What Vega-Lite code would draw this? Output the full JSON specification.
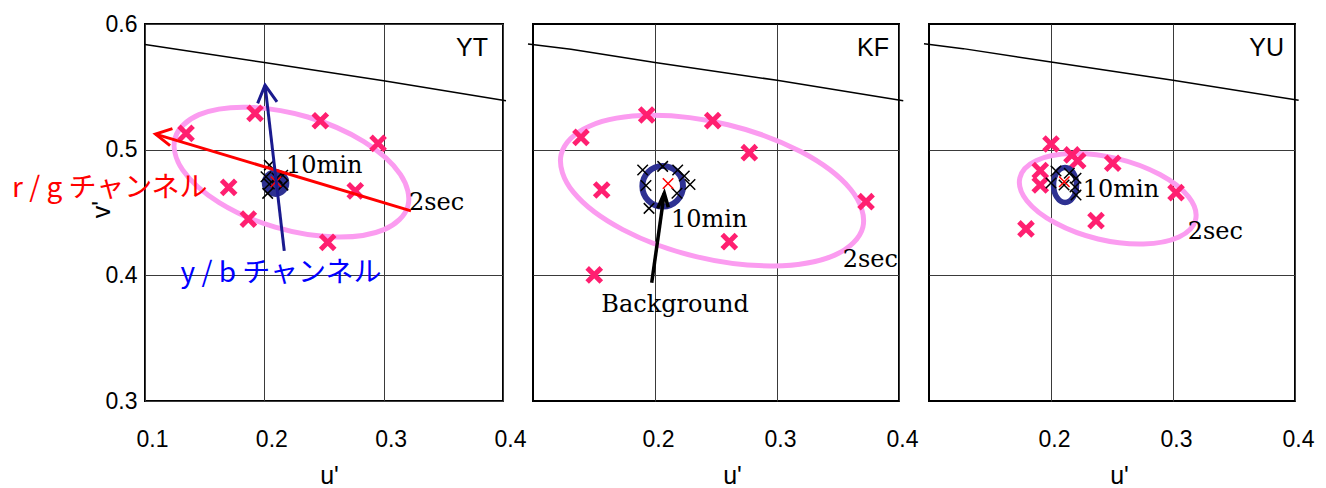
{
  "$schema": "https://vega.github.io/schema/vega-lite/v6.json",
  "padding": {"left": 10, "top": 12, "right": 0, "bottom": 0},
  "background": "white",
  "config": {
    "view": {"stroke": "black", "strokeWidth": 2},
    "axis": {"ticks": false, "tickSize": 0, "domain": false, "grid": true, "gridColor": "#3a3a3a", "gridWidth": 1,
      "labelFont": "Liberation Sans", "labelFontSize": 23, "labelColor": "black",
      "titleFont": "Liberation Sans", "titleFontSize": 25, "titleFontWeight": "normal", "titleColor": "black"}
  },
  "datasets": {
    "ell": [
      {"p":1,"o":0,"u":0.3202,"v":0.4547},{"p":1,"o":1,"u":0.3003,"v":0.4364},{"p":1,"o":2,"u":0.2597,"v":0.4305},{"p":1,"o":3,"u":0.2091,"v":0.4383},
      {"p":1,"o":4,"u":0.1622,"v":0.4579},{"p":1,"o":5,"u":0.1315,"v":0.4839},{"p":1,"o":6,"u":0.1253,"v":0.5095},{"p":1,"o":7,"u":0.1453,"v":0.5279},
      {"p":1,"o":8,"u":0.1858,"v":0.5338},{"p":1,"o":9,"u":0.2364,"v":0.5260},{"p":1,"o":10,"u":0.2834,"v":0.5064},{"p":1,"o":11,"u":0.3140,"v":0.4804},
      {"p":2,"o":0,"u":0.3704,"v":0.4384},{"p":2,"o":1,"u":0.3473,"v":0.4161},{"p":2,"o":2,"u":0.2973,"v":0.4075},{"p":2,"o":3,"u":0.2337,"v":0.4149},
      {"p":2,"o":4,"u":0.1736,"v":0.4364},{"p":2,"o":5,"u":0.1331,"v":0.4662},{"p":2,"o":6,"u":0.1231,"v":0.4963},{"p":2,"o":7,"u":0.1462,"v":0.5187},
      {"p":2,"o":8,"u":0.1962,"v":0.5273},{"p":2,"o":9,"u":0.2598,"v":0.5198},{"p":2,"o":10,"u":0.3198,"v":0.4983},{"p":2,"o":11,"u":0.3603,"v":0.4685},
      {"p":3,"o":0,"u":0.3185,"v":0.4442},{"p":3,"o":1,"u":0.3049,"v":0.4305},{"p":3,"o":2,"u":0.2757,"v":0.4249},{"p":3,"o":3,"u":0.2386,"v":0.4289},
      {"p":3,"o":4,"u":0.2037,"v":0.4416},{"p":3,"o":5,"u":0.1802,"v":0.4594},{"p":3,"o":6,"u":0.1745,"v":0.4776},{"p":3,"o":7,"u":0.1881,"v":0.4914},
      {"p":3,"o":8,"u":0.2173,"v":0.4969},{"p":3,"o":9,"u":0.2544,"v":0.4929},{"p":3,"o":10,"u":0.2893,"v":0.4802},{"p":3,"o":11,"u":0.3128,"v":0.4624}
    ],
    "locus": [
      {"p":1,"o":0,"u":0.1,"v":0.5836},{"p":1,"o":1,"u":0.2,"v":0.5693},{"p":1,"o":2,"u":0.3,"v":0.5549},{"p":1,"o":3,"u":0.4025,"v":0.5389},
      {"p":2,"o":0,"u":0.0959,"v":0.5841},{"p":2,"o":1,"u":0.1311,"v":0.5799},{"p":2,"o":2,"u":0.2,"v":0.5693},{"p":2,"o":3,"u":0.3,"v":0.5552},{"p":2,"o":4,"u":0.4035,"v":0.5390},
      {"p":3,"o":0,"u":0.0959,"v":0.5843},{"p":3,"o":1,"u":0.1280,"v":0.5804},{"p":3,"o":2,"u":0.2,"v":0.5698},{"p":3,"o":3,"u":0.3,"v":0.5553},{"p":3,"o":4,"u":0.4030,"v":0.5393}
    ],
    "pts2s": [
      {"p":1,"u":0.1344,"v":0.5130},{"p":1,"u":0.1922,"v":0.5289},{"p":1,"u":0.2469,"v":0.5230},{"p":1,"u":0.2953,"v":0.5050},
      {"p":1,"u":0.1701,"v":0.4700},{"p":1,"u":0.2762,"v":0.4672},{"p":1,"u":0.1866,"v":0.4447},{"p":1,"u":0.2531,"v":0.4262},
      {"p":2,"u":0.1393,"v":0.5098},{"p":2,"u":0.1932,"v":0.5276},{"p":2,"u":0.2473,"v":0.5231},{"p":2,"u":0.2773,"v":0.4976},
      {"p":2,"u":0.1563,"v":0.4679},{"p":2,"u":0.3730,"v":0.4586},{"p":2,"u":0.2609,"v":0.4268},{"p":2,"u":0.1502,"v":0.4003},
      {"p":3,"u":0.2000,"v":0.5045},{"p":3,"u":0.2172,"v":0.4958},{"p":3,"u":0.2219,"v":0.4912},{"p":3,"u":0.1912,"v":0.4833},
      {"p":3,"u":0.1912,"v":0.4719},{"p":3,"u":0.2506,"v":0.4892},{"p":3,"u":0.3025,"v":0.4658},{"p":3,"u":0.2369,"v":0.4435},{"p":3,"u":0.1795,"v":0.4369}
    ],
    "pts10": [
      {"p":1,"u":0.2042,"v":0.4877},{"p":1,"u":0.2014,"v":0.4784},{"p":1,"u":0.2154,"v":0.4797},{"p":1,"u":0.2042,"v":0.4726},
      {"p":1,"u":0.2156,"v":0.4718},{"p":1,"u":0.2028,"v":0.4652},{"p":1,"u":0.2106,"v":0.4774},
      {"p":2,"u":0.1899,"v":0.4838},{"p":2,"u":0.2063,"v":0.4867},{"p":2,"u":0.2186,"v":0.4838},{"p":2,"u":0.2240,"v":0.4790},
      {"p":2,"u":0.2287,"v":0.4723},{"p":2,"u":0.1926,"v":0.4715},{"p":2,"u":0.2180,"v":0.4653},{"p":2,"u":0.1951,"v":0.4533},
      {"p":3,"u":0.2041,"v":0.4830},{"p":3,"u":0.2150,"v":0.4812},{"p":3,"u":0.2205,"v":0.4772},{"p":3,"u":0.2000,"v":0.4735},
      {"p":3,"u":0.2107,"v":0.4719},{"p":3,"u":0.2197,"v":0.4703},{"p":3,"u":0.2205,"v":0.4639}
    ],
    "ctr": [
      {"p":1,"u":0.2098,"v":0.4744},{"p":2,"u":0.2107,"v":0.4731},{"p":3,"u":0.2109,"v":0.4745}
    ],
    "ring": [
      {"p":1,"u":0.2094,"v":0.4734},{"p":2,"u":0.2063,"v":0.4709},{"p":3,"u":0.2115,"v":0.4719}
    ],
    "arrows": [
      {"p":1,"c":"rg","a":"rg1","o":0,"u":0.3229,"v":0.4513},{"p":1,"c":"rg","a":"rg1","o":1,"u":0.1088,"v":0.5124},
      {"p":1,"c":"rg","a":"rg2","o":0,"u":0.1230,"v":0.5168},{"p":1,"c":"rg","a":"rg2","o":1,"u":0.1088,"v":0.5124},{"p":1,"c":"rg","a":"rg2","o":2,"u":0.1210,"v":0.5032},
      {"p":1,"c":"yb","a":"yb1","o":0,"u":0.2167,"v":0.4195},{"p":1,"c":"yb","a":"yb1","o":1,"u":0.2006,"v":0.5514},
      {"p":1,"c":"yb","a":"yb2","o":0,"u":0.1944,"v":0.5368},{"p":1,"c":"yb","a":"yb2","o":1,"u":0.2006,"v":0.5514},{"p":1,"c":"yb","a":"yb2","o":2,"u":0.2106,"v":0.5381},
      {"p":2,"c":"bg","a":"bg1","o":0,"u":0.1973,"v":0.3941},{"p":2,"c":"bg","a":"bg1","o":1,"u":0.2076,"v":0.4653},
      {"p":2,"c":"bg","a":"bg2","o":0,"u":0.2022,"v":0.4533},{"p":2,"c":"bg","a":"bg2","o":1,"u":0.2076,"v":0.4653},{"p":2,"c":"bg","a":"bg2","o":2,"u":0.2109,"v":0.4541}
    ],
    "labels": [
      {"p":1,"k":"corner","t":"YT","u":0.3874,"v":0.5809},
      {"p":1,"k":"serif","t":"10min","u":0.2182,"v":0.4811},
      {"p":1,"k":"serif","t":"2sec","u":0.3212,"v":0.4519},
      {"p":1,"k":"red","t":"r / g チャンネル","u":0.0705,"v":0.4622},
      {"p":1,"k":"blue","t":"y / b チャンネル","u":0.2140,"v":0.3945},
      {"p":2,"k":"corner","t":"KF","u":0.3918,"v":0.5809},
      {"p":2,"k":"serif","t":"10min","u":0.2131,"v":0.4387},
      {"p":2,"k":"serif","t":"2sec","u":0.3538,"v":0.4069},
      {"p":2,"k":"serifc","t":"Background","u":0.2164,"v":0.3711},
      {"p":3,"k":"corner","t":"YU","u":0.3910,"v":0.5809},
      {"p":3,"k":"serif","t":"10min","u":0.2260,"v":0.4626},
      {"p":3,"k":"serif","t":"2sec","u":0.3120,"v":0.4287}
    ]
  },
  "hconcat": [
    {
      "width": 358, "height": 377,
      "encoding": {
        "x": {"field": "u", "type": "quantitative", "scale": {"domain": [0.1, 0.4], "nice": false, "zero": false},
          "axis": {"values": [0.1, 0.2, 0.3, 0.4], "format": ".1f", "labelPadding": 27, "labelOffset": 7, "labelFlush": false, "labelOverlap": false,
            "title": "u'", "titleX": 184, "titleY": 82, "titleBaseline": "alphabetic", "titleAlign": "center"}},
        "y": {"field": "v", "type": "quantitative", "scale": {"domain": [0.3, 0.6], "nice": false, "zero": false},
          "axis": {"values": [0.3, 0.4, 0.5, 0.6], "format": ".1f", "labelPadding": 8, "labelFlush": false, "labelOverlap": false,
            "title": "v'", "titleX": -36, "titleY": 185, "titleAngle": 270, "titleBaseline": "alphabetic", "titleAlign": "center"}}
      },
      "layer": [
        {"data": {"name": "locus"}, "transform": [{"filter": "datum.p == 1"}], "mark": {"type": "line", "color": "black", "strokeWidth": 1.5}, "encoding": {"order": {"field": "o"}}},
        {"data": {"name": "ell"}, "transform": [{"filter": "datum.p == 1"}], "mark": {"type": "line", "color": "#fb9cf0", "strokeWidth": 5, "interpolate": "cardinal-closed"}, "encoding": {"order": {"field": "o"}}},
        {"data": {"name": "pts2s"}, "transform": [{"filter": "datum.p == 1"}], "mark": {"type": "point", "shape": "M-1,-1L1,1M1,-1L-1,1", "filled": false, "color": "#ff1f70", "strokeWidth": 5, "size": 200, "opacity": 1}},
        {"data": {"name": "ring"}, "transform": [{"filter": "datum.p == 1"}], "mark": {"type": "point", "shape": "circle", "filled": true, "color": "#2e3192", "size": 760, "opacity": 1}},
        {"data": {"name": "pts10"}, "transform": [{"filter": "datum.p == 1"}], "mark": {"type": "point", "shape": "M-1,-1L1,1M1,-1L-1,1", "filled": false, "color": "black", "strokeWidth": 1.5, "size": 110, "opacity": 1}},
        {"data": {"name": "ctr"}, "transform": [{"filter": "datum.p == 1"}], "mark": {"type": "point", "shape": "M-1,-1L1,1M1,-1L-1,1", "filled": false, "color": "#ff0000", "strokeWidth": 1.5, "size": 110, "opacity": 1}},
        {"data": {"name": "arrows"}, "transform": [{"filter": "datum.p == 1"}], "mark": {"type": "line", "strokeWidth": 3},
          "encoding": {"order": {"field": "o"}, "detail": {"field": "a"}, "color": {"field": "c", "type": "nominal", "scale": {"domain": ["rg", "yb", "bg"], "range": ["#ff0000", "#1a1a8e", "#000000"]}, "legend": null}}},
        {"data": {"name": "labels"}, "transform": [{"filter": "datum.p == 1 && datum.k == 'corner'"}], "mark": {"type": "text", "font": "Liberation Sans", "fontSize": 25, "align": "right", "baseline": "middle", "color": "black"}, "encoding": {"text": {"field": "t"}}},
        {"data": {"name": "labels"}, "transform": [{"filter": "datum.p == 1 && datum.k == 'serif'"}], "mark": {"type": "text", "font": "DejaVu Serif", "fontSize": 24, "align": "left", "baseline": "alphabetic", "color": "black"}, "encoding": {"text": {"field": "t"}}},
        {"data": {"name": "labels"}, "transform": [{"filter": "datum.p == 1 && datum.k == 'red'"}], "mark": {"type": "text", "font": "Noto Sans CJK JP", "fontSize": 28, "align": "center", "baseline": "alphabetic", "color": "#ff0000"}, "encoding": {"text": {"field": "t"}}},
        {"data": {"name": "labels"}, "transform": [{"filter": "datum.p == 1 && datum.k == 'blue'"}], "mark": {"type": "text", "font": "Noto Sans CJK JP", "fontSize": 28, "align": "center", "baseline": "alphabetic", "color": "#0000ff"}, "encoding": {"text": {"field": "t"}}}
      ]
    },
    {
      "width": 366, "height": 377,
      "encoding": {
        "x": {"field": "u", "type": "quantitative", "scale": {"domain": [0.1, 0.4], "nice": false, "zero": false},
          "axis": {"values": [0.2, 0.3, 0.4], "format": ".1f", "labelPadding": 27, "labelOffset": 3, "labelFlush": false, "labelOverlap": false,
            "title": "u'", "titleX": 199, "titleY": 82, "titleBaseline": "alphabetic", "titleAlign": "center"}},
        "y": {"field": "v", "type": "quantitative", "scale": {"domain": [0.3, 0.6], "nice": false, "zero": false},
          "axis": {"values": [0.4, 0.5], "labels": false, "title": null}}
      },
      "layer": [
        {"data": {"name": "locus"}, "transform": [{"filter": "datum.p == 2"}], "mark": {"type": "line", "color": "black", "strokeWidth": 1.5}, "encoding": {"order": {"field": "o"}}},
        {"data": {"name": "ell"}, "transform": [{"filter": "datum.p == 2"}], "mark": {"type": "line", "color": "#fb9cf0", "strokeWidth": 5, "interpolate": "cardinal-closed"}, "encoding": {"order": {"field": "o"}}},
        {"data": {"name": "pts2s"}, "transform": [{"filter": "datum.p == 2"}], "mark": {"type": "point", "shape": "M-1,-1L1,1M1,-1L-1,1", "filled": false, "color": "#ff1f70", "strokeWidth": 5, "size": 200, "opacity": 1}},
        {"data": {"name": "ring"}, "transform": [{"filter": "datum.p == 2"}], "mark": {"type": "point", "shape": "circle", "filled": false, "color": "#2e3192", "strokeWidth": 6, "size": 1650, "opacity": 1}},
        {"data": {"name": "pts10"}, "transform": [{"filter": "datum.p == 2"}], "mark": {"type": "point", "shape": "M-1,-1L1,1M1,-1L-1,1", "filled": false, "color": "black", "strokeWidth": 1.5, "size": 110, "opacity": 1}},
        {"data": {"name": "ctr"}, "transform": [{"filter": "datum.p == 2"}], "mark": {"type": "point", "shape": "M-1,-1L1,1M1,-1L-1,1", "filled": false, "color": "#ff0000", "strokeWidth": 1.5, "size": 110, "opacity": 1}},
        {"data": {"name": "arrows"}, "transform": [{"filter": "datum.p == 2"}], "mark": {"type": "line", "strokeWidth": 3.5},
          "encoding": {"order": {"field": "o"}, "detail": {"field": "a"}, "color": {"field": "c", "type": "nominal", "scale": {"domain": ["rg", "yb", "bg"], "range": ["#ff0000", "#1a1a8e", "#000000"]}, "legend": null}}},
        {"data": {"name": "labels"}, "transform": [{"filter": "datum.p == 2 && datum.k == 'corner'"}], "mark": {"type": "text", "font": "Liberation Sans", "fontSize": 25, "align": "right", "baseline": "middle", "color": "black"}, "encoding": {"text": {"field": "t"}}},
        {"data": {"name": "labels"}, "transform": [{"filter": "datum.p == 2 && datum.k == 'serif'"}], "mark": {"type": "text", "font": "DejaVu Serif", "fontSize": 24, "align": "left", "baseline": "alphabetic", "color": "black"}, "encoding": {"text": {"field": "t"}}},
        {"data": {"name": "labels"}, "transform": [{"filter": "datum.p == 2 && datum.k == 'serifc'"}], "mark": {"type": "text", "font": "DejaVu Serif", "fontSize": 24, "align": "center", "baseline": "alphabetic", "color": "black"}, "encoding": {"text": {"field": "t"}}}
      ]
    },
    {
      "width": 366, "height": 377,
      "encoding": {
        "x": {"field": "u", "type": "quantitative", "scale": {"domain": [0.1, 0.4], "nice": false, "zero": false},
          "axis": {"values": [0.2, 0.3, 0.4], "format": ".1f", "labelPadding": 27, "labelOffset": 3, "labelFlush": false, "labelOverlap": false,
            "title": "u'", "titleX": 190, "titleY": 82, "titleBaseline": "alphabetic", "titleAlign": "center"}},
        "y": {"field": "v", "type": "quantitative", "scale": {"domain": [0.3, 0.6], "nice": false, "zero": false},
          "axis": {"values": [0.4, 0.5], "labels": false, "title": null}}
      },
      "layer": [
        {"data": {"name": "locus"}, "transform": [{"filter": "datum.p == 3"}], "mark": {"type": "line", "color": "black", "strokeWidth": 1.5}, "encoding": {"order": {"field": "o"}}},
        {"data": {"name": "ell"}, "transform": [{"filter": "datum.p == 3"}], "mark": {"type": "line", "color": "#fb9cf0", "strokeWidth": 5, "interpolate": "cardinal-closed"}, "encoding": {"order": {"field": "o"}}},
        {"data": {"name": "pts2s"}, "transform": [{"filter": "datum.p == 3"}], "mark": {"type": "point", "shape": "M-1,-1L1,1M1,-1L-1,1", "filled": false, "color": "#ff1f70", "strokeWidth": 5, "size": 200, "opacity": 1}},
        {"data": {"name": "ring"}, "transform": [{"filter": "datum.p == 3"}], "mark": {"type": "point", "shape": "M0,-1 A0.657,1,0,1,1,0,1 A0.657,1,0,1,1,0,-1 Z", "filled": false, "color": "#2e3192", "strokeWidth": 5.5, "size": 1225, "opacity": 1}},
        {"data": {"name": "pts10"}, "transform": [{"filter": "datum.p == 3"}], "mark": {"type": "point", "shape": "M-1,-1L1,1M1,-1L-1,1", "filled": false, "color": "black", "strokeWidth": 1.5, "size": 110, "opacity": 1}},
        {"data": {"name": "ctr"}, "transform": [{"filter": "datum.p == 3"}], "mark": {"type": "point", "shape": "M-1,-1L1,1M1,-1L-1,1", "filled": false, "color": "#ff0000", "strokeWidth": 1.5, "size": 110, "opacity": 1}},
        {"data": {"name": "labels"}, "transform": [{"filter": "datum.p == 3 && datum.k == 'corner'"}], "mark": {"type": "text", "font": "Liberation Sans", "fontSize": 25, "align": "right", "baseline": "middle", "color": "black"}, "encoding": {"text": {"field": "t"}}},
        {"data": {"name": "labels"}, "transform": [{"filter": "datum.p == 3 && datum.k == 'serif'"}], "mark": {"type": "text", "font": "DejaVu Serif", "fontSize": 24, "align": "left", "baseline": "alphabetic", "color": "black"}, "encoding": {"text": {"field": "t"}}}
      ]
    }
  ],
  "spacing": 30,
  "bounds": "flush"
}
